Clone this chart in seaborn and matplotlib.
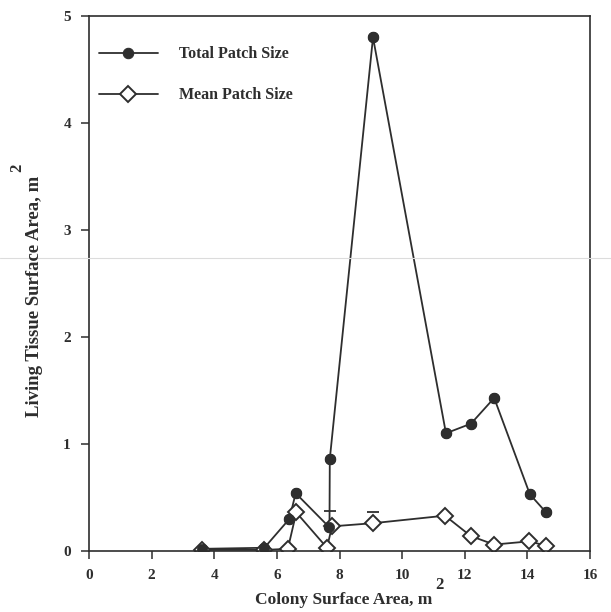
import matplotlib
matplotlib.use("Agg")
import matplotlib.pyplot as plt
import seaborn as sns
import pandas as pd
from matplotlib.lines import Line2D

# ---- data ----
total_x = [3.6, 5.6, 6.4, 6.6, 7.68, 7.69, 9.07, 11.4, 12.2, 12.94, 14.08, 14.6]
total_y = [0.02, 0.03, 0.30, 0.54, 0.22, 0.86, 4.80, 1.10, 1.19, 1.43, 0.53, 0.36]
mean_x = [3.6, 5.6, 6.35, 6.62, 7.6, 7.76, 9.08, 11.37, 12.19, 12.94, 14.06, 14.59]
mean_y = [0.01, 0.01, 0.02, 0.36, 0.03, 0.23, 0.26, 0.33, 0.14, 0.06, 0.09, 0.05]
cap_x = [7.7, 9.07]
cap_y = [0.37, 0.36]
xticks = [0, 2, 4, 6, 8, 10, 12, 14, 16]
yticks = [0, 1, 2, 3, 4, 5]
series_labels = ["Total Patch Size", "Mean Patch Size"]

total_df = pd.DataFrame({"x": total_x, "y": total_y})
mean_df = pd.DataFrame({"x": mean_x, "y": mean_y})

sns.set_style("ticks")
plt.rcParams["font.family"] = ["Liberation Serif", "DejaVu Serif"]
plt.rcParams["font.weight"] = "bold"

ink = "#2e2e2e"
fig = plt.figure(figsize=(6.11, 6.12), dpi=100)
ax = fig.add_axes([0.1457, 0.0997, 0.8199, 0.8742])

sns.lineplot(data=total_df, x="x", y="y", sort=False, estimator=None, ax=ax,
             color=ink, linewidth=1.3, marker="o", markersize=7.5,
             markerfacecolor=ink, markeredgecolor=ink, label=series_labels[0])
sns.lineplot(data=mean_df, x="x", y="y", sort=False, estimator=None, ax=ax,
             color=ink, linewidth=1.3, marker="D", markersize=7.8,
             markerfacecolor="white", markeredgecolor=ink, markeredgewidth=1.4,
             label=series_labels[1])
# redraw total markers on top so they cover the diamonds where they overlap
sns.scatterplot(x=total_x, y=total_y, ax=ax, color=ink, s=55, edgecolor=ink,
                linewidth=0.5, zorder=5, legend=False)
sns.scatterplot(x=cap_x, y=cap_y, ax=ax, marker="_", s=70, color=ink,
                linewidth=1.3, legend=False)

ax.set_xlim(0, 16)
ax.set_ylim(0, 5)
ax.set_xticks(xticks)
ax.set_yticks(yticks)
ax.set_xticklabels([str(t) for t in xticks], fontsize=11, fontweight="bold", color=ink)
ax.set_yticklabels([str(t) for t in yticks], fontsize=11, fontweight="bold", color=ink)
ax.tick_params(direction="out", length=6, width=1.1, color=ink, pad=7)
ax.set_xlabel("")
ax.set_ylabel("")
for s in ax.spines.values():
    s.set_visible(True)
    s.set_linewidth(1.2)
    s.set_color(ink)

leg = ax.legend(loc="upper left", bbox_to_anchor=(-0.009, 0.970), frameon=False,
                handlelength=3.7, handletextpad=1.3, labelspacing=1.55,
                prop={"family": "Liberation Serif", "weight": "bold", "size": 11.5})
for t in leg.get_texts():
    t.set_color(ink)

fig.text(0.562, 0.02, "Colony Surface Area, m", ha="center", va="center",
         fontsize=12.5, fontweight="bold", color=ink)
fig.text(0.72, 0.044, "2", ha="center", va="center", fontsize=12,
         fontweight="bold", color=ink)
fig.text(0.057, 0.515, "Living Tissue Surface Area, m", ha="center", va="center",
         rotation=90, fontsize=13.5, fontweight="bold", color=ink)
fig.text(0.029, 0.725, "2", ha="center", va="center", rotation=90, fontsize=12,
         fontweight="bold", color=ink)

# faint scan line across the page
fig.add_artist(Line2D([0, 1], [1 - 258 / 612, 1 - 258 / 612],
                      transform=fig.transFigure, color="#dcdcdc", linewidth=0.8))

fig.savefig("out.png", dpi=100)
